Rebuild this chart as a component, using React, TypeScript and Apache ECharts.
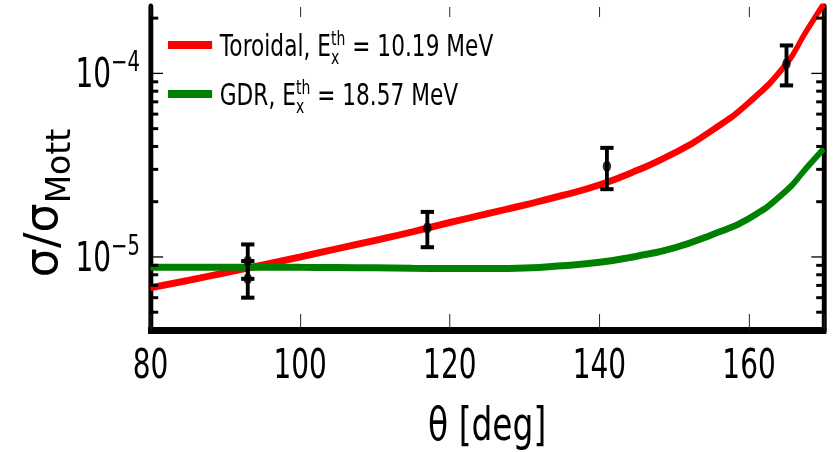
import React, { useEffect, useRef } from 'react';
import * as echarts from 'echarts';

// horizontal compression of the reference picture
const K = 0.7;
const PAGE_W = 838;
const PAGE_H = 452;
const W = PAGE_W / K;
const FONT = 'DejaVu Sans';

const X_MIN = 80;
const X_MAX = 170;
const X_STEP = 20;
const Y_MIN = 4e-6;
const Y_MAX = 2.3e-4;

// curves: scattering angle (deg) and sigma / sigma_Mott
const angles = [80, 85, 90, 95, 100, 105, 110, 115, 120, 125, 130, 135, 140, 145, 150, 155, 160, 165, 167.5, 170];
const toroidal = [6.8e-6, 7.45e-6, 8.2e-6, 9.05e-6, 1.0e-5, 1.11e-5, 1.23e-5, 1.37e-5, 1.54e-5, 1.72e-5, 1.92e-5, 2.16e-5, 2.47e-5, 2.96e-5, 3.68e-5, 4.88e-5, 6.95e-5, 1.13e-4, 1.66e-4, 2.4e-4];
const gdr = [8.8e-6, 8.8e-6, 8.8e-6, 8.8e-6, 8.78e-6, 8.75e-6, 8.72e-6, 8.68e-6, 8.65e-6, 8.64e-6, 8.7e-6, 8.95e-6, 9.35e-6, 1.01e-5, 1.12e-5, 1.32e-5, 1.62e-5, 2.3e-5, 3.0e-5, 3.9e-5];

// measured points
const pointAngles = [93, 93, 117, 141, 165];
const pointValues = [9.5e-6, 7.6e-6, 1.44e-5, 3.12e-5, 1.13e-4];
const errLow = [7.6e-6, 6.0e-6, 1.13e-5, 2.34e-5, 8.6e-5];
const errHigh = [1.17e-5, 9.5e-6, 1.76e-5, 3.93e-5, 1.42e-4];

// log axis ticks
const majorTicks = [1e-5, 1e-4];
const minorTicks = [5e-6, 6e-6, 7e-6, 8e-6, 9e-6, 2e-5, 3e-5, 4e-5, 5e-5, 6e-5, 7e-5, 8e-5, 9e-5, 2e-4];

const legendNames = ['Toroidal', 'GDR'];
const legendEnergies = ['10.19', '18.57'];

const yTitle = {
  type: 'text',
  x: 59,
  y: 203,
  rotation: Math.PI / 2,
  scaleY: 1 / K,
  style: {
    text: '{a|σ/σ}{b|Mott}',
    align: 'center',
    verticalAlign: 'middle',
    fill: '#000',
    fontFamily: FONT,
    fontSize: 46,
    rich: {
      a: { fontFamily: FONT, fontSize: 46, fill: '#000' },
      b: { fontFamily: FONT, fontSize: 33, fill: '#000', padding: [34, 0, 0, 0] },
    },
  },
};

export default function App() {
  const ref = useRef<HTMLDivElement>(null);

  useEffect(() => {
    const chart = echarts.init(ref.current!, null, { renderer: 'svg' });

    const errData = pointAngles.map((a, i) => [a, errLow[i], errHigh[i]]);

    const option: any = {
      animation: false,
      grid: { left: 150.5 / K, right: W - 824 / K, top: 7, bottom: PAGE_H - 336, containLabel: false },
      legend: {
        data: legendNames,
        orient: 'vertical',
        left: 240,
        top: 28,
        padding: 0,
        itemGap: 10,
        itemWidth: 63,
        itemHeight: 8,
        icon: 'rect',
        selectedMode: false,
        formatter: (name: string) => {
          const e = legendEnergies[legendNames.indexOf(name)];
          return `{f|${name}, E}{x|x}{t|th}{n| = ${e} MeV}`;
        },
        textStyle: {
          fontFamily: FONT,
          fontSize: 31,
          color: '#000',
          rich: {
            f: { fontFamily: FONT, fontSize: 31, color: '#000', padding: [0, 0, 0, 6] },
            n: { fontFamily: FONT, fontSize: 31, color: '#000' },
            x: { fontFamily: FONT, fontSize: 20, color: '#000', padding: [24, 0, 0, 0], width: 0 },
            t: { fontFamily: FONT, fontSize: 20, color: '#000', padding: [0, 0, 14, 0] },
          },
        },
      },
      xAxis: [
        {
          type: 'value',
          min: X_MIN,
          max: X_MAX,
          interval: X_STEP,
          position: 'bottom',
          axisLine: { show: true, onZero: false, lineStyle: { color: '#000', width: 7, cap: 'square' } },
          axisTick: { show: true, inside: true, length: 16, lineStyle: { color: '#222', width: 1.4 } },
          axisLabel: {
            fontFamily: FONT,
            fontSize: 40,
            color: '#000',
            margin: 14,
            formatter: (v: number) => (v % X_STEP === 0 ? String(v) : ''),
          },
          splitLine: { show: false },
          name: 'θ [deg]',
          nameLocation: 'middle',
          nameGap: 70,
          nameTextStyle: { fontFamily: FONT, fontSize: 47, color: '#000' },
        },
        {
          type: 'value',
          min: X_MIN,
          max: X_MAX,
          interval: X_STEP,
          position: 'top',
          axisLine: { show: false },
          axisTick: { show: true, inside: true, length: 10, lineStyle: { color: '#222', width: 1.4 } },
          axisLabel: { show: false },
          splitLine: { show: false },
        },
      ],
      yAxis: [
        {
          type: 'log',
          logBase: 10,
          min: Y_MIN,
          max: Y_MAX,
          position: 'left',
          axisLine: { show: true, onZero: false, lineStyle: { color: '#000', width: 7 } },
          axisTick: { show: false },
          minorTick: { show: false },
          splitLine: { show: false },
          axisLabel: {
            margin: 15,
            formatter: (v: number) => {
              const l = Math.log10(v);
              const e = Math.round(l);
              if (Math.abs(l - e) > 1e-6) return '';
              return `{b|10}{s|${e < 0 ? '\u2212' : ''}${Math.abs(e)}}`;
            },
            rich: {
              b: { fontFamily: FONT, fontSize: 40, color: '#000' },
              s: { fontFamily: FONT, fontSize: 28, color: '#000', padding: [0, 0, 23, 0] },
            },
          },
        },
        {
          type: 'log',
          logBase: 10,
          min: Y_MIN,
          max: Y_MAX,
          position: 'right',
          axisLine: { show: true, onZero: false, lineStyle: { color: '#000', width: 7 } },
          axisTick: { show: false },
          axisLabel: { show: false },
          splitLine: { show: false },
        },
      ],
      graphic: [yTitle],
      series: [
        {
          name: 'Toroidal',
          type: 'line',
          data: angles.map((a, i) => [a, toroidal[i]]),
          smooth: 0.5,
          symbol: 'none',
          showSymbol: false,
          clip: true,
          color: '#ff0000',
          lineStyle: { width: 7, color: '#ff0000' },
          z: 2,
        },
        {
          name: 'GDR',
          type: 'line',
          data: angles.map((a, i) => [a, gdr[i]]),
          smooth: 0.5,
          symbol: 'none',
          showSymbol: false,
          clip: true,
          color: '#008000',
          lineStyle: { width: 7, color: '#008000' },
          z: 2,
        },
        {
          name: 'errors',
          type: 'custom',
          silent: true,
          z: 5,
          encode: { x: 0, y: [1, 2] },
          data: errData,
          renderItem: (params: any, api: any) => {
            const x = api.value(0);
            const lo = api.coord([x, api.value(1)]);
            const hi = api.coord([x, api.value(2)]);
            const cw = 9.5;
            return {
              type: 'group',
              children: [
                { type: 'line', shape: { x1: lo[0], y1: lo[1], x2: hi[0], y2: hi[1] }, style: { stroke: '#000', lineWidth: 5.5 } },
                { type: 'line', shape: { x1: lo[0] - cw, y1: lo[1], x2: lo[0] + cw, y2: lo[1] }, style: { stroke: '#000', lineWidth: 4 } },
                { type: 'line', shape: { x1: hi[0] - cw, y1: hi[1], x2: hi[0] + cw, y2: hi[1] }, style: { stroke: '#000', lineWidth: 4 } },
              ],
            };
          },
        },
        {
          name: 'points',
          type: 'scatter',
          data: pointAngles.map((a, i) => [a, pointValues[i]]),
          symbol: 'circle',
          symbolSize: [12, 11],
          itemStyle: { color: '#000' },
          z: 6,
        },
      ],
    };

    chart.setOption(option);

    // y-axis ticks on both spines, placed through the chart's own log scale
    const tickLines: any[] = [];
    const addTicks = (values: number[], len: number, lw: number) => {
      values.forEach((v) => {
        const pL = chart.convertToPixel({ xAxisIndex: 0, yAxisIndex: 0 }, [X_MIN, v]) as number[];
        const pR = chart.convertToPixel({ xAxisIndex: 0, yAxisIndex: 0 }, [X_MAX, v]) as number[];
        if (!pL || !pR) return;
        tickLines.push({ type: 'line', z: 100, silent: true, shape: { x1: pL[0], y1: pL[1], x2: pL[0] + len, y2: pL[1] }, style: { stroke: '#000', lineWidth: lw } });
        tickLines.push({ type: 'line', z: 100, silent: true, shape: { x1: pR[0] - len, y1: pR[1], x2: pR[0], y2: pR[1] }, style: { stroke: '#000', lineWidth: lw } });
      });
    };
    addTicks(majorTicks, 18, 1.3);
    addTicks(minorTicks, 11, 3);
    chart.setOption({ graphic: [yTitle, ...tickLines] });

    return () => chart.dispose();
  }, []);

  return (
    <div
      ref={ref}
      style={{
        position: 'fixed',
        left: 0,
        top: 0,
        width: W,
        height: PAGE_H,
        transform: `scaleX(${K})`,
        transformOrigin: '0 0',
      }}
    />
  );
}
